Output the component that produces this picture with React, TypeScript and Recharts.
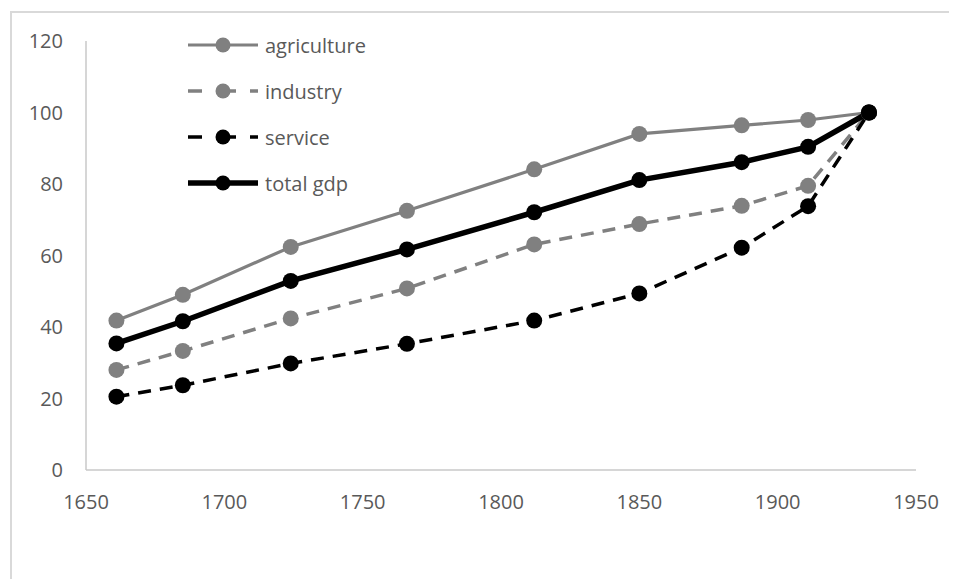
import React from "react";
import { LineChart, Line, XAxis, YAxis, Legend } from "recharts";

const years = [1661, 1685, 1724, 1766, 1812, 1850, 1887, 1911, 1933];
const agriculture = [41.8, 49.0, 62.4, 72.5, 84.1, 94.0, 96.4, 97.9, 100];
const industry = [28.0, 33.3, 42.4, 50.8, 63.1, 68.8, 73.9, 79.5, 100];
const service = [20.5, 23.7, 29.8, 35.3, 41.8, 49.4, 62.2, 73.8, 100];
const totalGdp = [35.4, 41.6, 52.9, 61.7, 72.1, 81.1, 86.1, 90.4, 100];
const xTicks = [1650, 1700, 1750, 1800, 1850, 1900, 1950];
const yTicks = [0, 20, 40, 60, 80, 100, 120];

const data = years.map((year, i) => ({
  year,
  agriculture: agriculture[i],
  industry: industry[i],
  service: service[i],
  total: totalGdp[i],
}));

const FONT = "'Open Sans', sans-serif";
const GREY = "#808080";

const styles: Record<string, { color: string; width: number; dash?: string }> = {
  agriculture: { color: GREY, width: 3.2 },
  industry: { color: GREY, width: 3.5, dash: "13 9" },
  service: { color: "#000000", width: 3.5, dash: "13 9" },
  total: { color: "#000000", width: 5.5 },
};

const names: Record<string, string> = {
  agriculture: "agriculture",
  industry: "industry",
  service: "service",
  total: "total gdp",
};

const LegendBox = (props: any) => {
  const items = props.payload || [];
  return (
    <div style={{ fontFamily: FONT, fontSize: 20, color: "#595959" }}>
      {items.map((item: any) => {
        const s = styles[item.dataKey];
        return (
          <div
            key={item.dataKey}
            style={{ display: "flex", alignItems: "center", height: 46 }}
          >
            <svg width={72} height={20} style={{ marginRight: 6 }}>
              <line
                x1={1}
                y1={10}
                x2={71}
                y2={10}
                stroke={s.color}
                strokeWidth={s.width}
                strokeDasharray={s.dash ? "14 20 14" : undefined}
              />
              <circle cx={36} cy={10} r={7.5} fill={s.color} />
            </svg>
            <span>{item.value}</span>
          </div>
        );
      })}
    </div>
  );
};

export default function App() {
  return (
    <div style={{ position: "relative", width: 941, height: 571 }}>
      <div
        style={{
          position: "absolute",
          left: 2,
          top: 3,
          width: 939,
          height: 568,
          borderTop: "2px solid #d9d9d9",
          borderLeft: "2px solid #d9d9d9",
          boxSizing: "border-box",
        }}
      />
      <LineChart
        width={941}
        height={571}
        data={data}
        margin={{ top: 33, right: 33, left: 0, bottom: 79 }}
      >
        <XAxis
          dataKey="year"
          type="number"
          domain={[1650, 1950]}
          ticks={xTicks}
          tickLine={false}
          axisLine={{ stroke: "#c8c8c8", strokeWidth: 1.5 }}
          tickMargin={19}
          height={30}
          tick={{ fill: "#595959", fontSize: 20, fontFamily: FONT }}
        />
        <YAxis
          type="number"
          domain={[0, 120]}
          ticks={yTicks}
          tickLine={false}
          axisLine={{ stroke: "#c8c8c8", strokeWidth: 1.5 }}
          tickMargin={17}
          width={78}
          tick={{ fill: "#595959", fontSize: 20, fontFamily: FONT }}
        />
        <Legend
          layout="vertical"
          verticalAlign="middle"
          align="center"
          content={<LegendBox />}
          wrapperStyle={{ left: 179, top: 14, width: 220 }}
        />
        {Object.keys(styles).map((key) => {
          const s = styles[key];
          return (
            <Line
              key={key}
              type="linear"
              dataKey={key}
              name={names[key]}
              stroke={s.color}
              strokeWidth={s.width}
              strokeDasharray={s.dash}
              dot={{ r: 8, fill: s.color, stroke: "none", strokeDasharray: "" }}
              activeDot={false}
              isAnimationActive={false}
            />
          );
        })}
      </LineChart>
    </div>
  );
}
